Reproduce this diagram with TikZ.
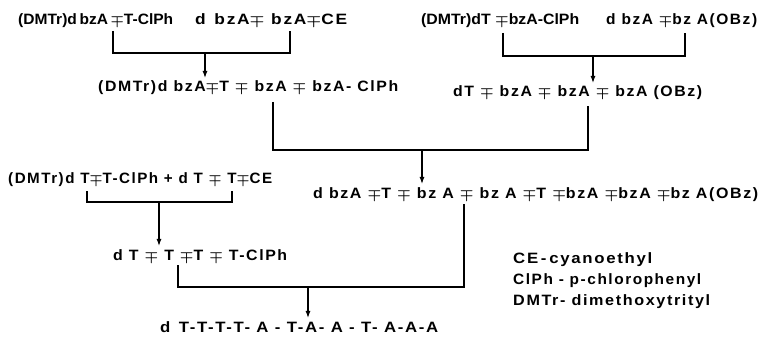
\documentclass[tikz,border=0pt]{standalone}
\usepackage{amsmath,bm}
\usepackage{fontspec}
\usetikzlibrary{arrows.meta,positioning}
\newfontfamily\scanfont[LetterSpace=10]{Liberation Sans}
\newfontfamily\tightfont{Liberation Sans}
\newcommand{\mpm}{\ensuremath{\boldsymbol{\mp}}}
% stretch a formula to the width it has in the scan
\newcommand{\fitw}[2]{\resizebox{#1}{\height}{#2}}
\tikzset{
  seqtext/.style={inner sep=0pt,anchor=base west,font=\fontsize{15}{18}\scanfont\bfseries},
  tightseq/.style={seqtext,font=\fontsize{15}{18}\tightfont\bfseries},
  bracketline/.style={line width=1.1pt,draw=black},
  downarrow/.style={-{Latex[length=7pt,width=5pt]},line width=1.1pt,draw=black,shorten >=3pt}
}

\begin{document}
\begin{tikzpicture}[x=1pt,y=-1pt]
\useasboundingbox (0,0) rectangle (764,337);
% starting fragments
\node[tightseq] (fragA) at (18,25) {\fitw{155pt}{(DMTr)d\,bzA\,\mpm{}T-ClPh}};
\node[seqtext] (fragB) at (195,25) {\fitw{152pt}{d\enspace bzA\mpm{} bzA\mpm{}CE}};
\node[tightseq] (fragC) at (421,25) {\fitw{158pt}{(DMTr)dT \mpm{}bzA-ClPh}};
\node[seqtext] (fragD) at (606,25) {\fitw{151pt}{d bzA \mpm{}bz A(OBz)}};
% tetramers
\node[seqtext] (tetA) at (98,92) {\fitw{300pt}{(DMTr)d bzA\mpm{}T \mpm{} bzA \mpm{} bzA- ClPh}};
\node[seqtext] (tetB) at (453,97) {\fitw{249pt}{dT \mpm{} bzA \mpm{} bzA \mpm{} bzA (OBz)}};
% octamer and dimers
\node[seqtext] (dimT) at (8,183) {\fitw{264pt}{(DMTr)d T\mpm{}T-ClPh + d T \mpm{} T\mpm{}CE}};
\node[seqtext] (octA) at (313,198) {\fitw{445pt}{d bzA \mpm{}T \mpm{} bz A \mpm{} bz A \mpm{}T \mpm{}bzA \mpm{}bzA \mpm{}bz A(OBz)}};
\node[seqtext] (tetT) at (113,260) {\fitw{174pt}{d T \mpm{} T \mpm{}T \mpm{} T-ClPh}};
% final product
\node[seqtext] (prod) at (160,332) {\fitw{278pt}{d\enspace T-T-T-T- A - T-A- A - T- A-A-A}};
% abbreviations
\node[seqtext] (legCE) at (513,263) {\fitw{139pt}{CE\,-\,cyanoethyl}};
\node[seqtext] (legCl) at (513,284) {\fitw{188pt}{ClPh - p-chlorophenyl}};
\node[seqtext] (legDM) at (513,305) {\fitw{197pt}{DMTr- dimethoxytrityl}};

\coordinate (b1l) at (113,31);
\coordinate (b1r) at (290,31);
\coordinate (b1m) at (205,53);
\coordinate (b2l) at (503,33);
\coordinate (b2r) at (685,33);
\coordinate (b2m) at (593,56);
\coordinate (b3l) at (273,102);
\coordinate (b3r) at (588,106);
\coordinate (b3m) at (422,150);
\coordinate (b4l) at (87,191);
\coordinate (b4r) at (232,191);
\coordinate (b4m) at (159,202);
\coordinate (b5l) at (178,265);
\coordinate (b5r) at (464,204);
\coordinate (b5m) at (308,287);

\draw[bracketline] (b1l) |- (b1m) -| (b1r);
\draw[downarrow] (b1m) -- (b1m |- tetA.north);
\draw[bracketline] (b2l) |- (b2m) -| (b2r);
\draw[downarrow] (b2m) -- (b2m |- tetB.north);
\draw[bracketline] (b3l) |- (b3m) -| (b3r);
\draw[downarrow] (b3m) -- (b3m |- octA.north);
\draw[bracketline] (b4l) |- (b4m) -| (b4r);
\draw[downarrow] (b4m) -- (b4m |- tetT.north);
\draw[bracketline] (b5l) |- (b5m) -| (b5r);
\draw[downarrow] (b5m) -- (b5m |- prod.north);
\end{tikzpicture}
\end{document}
